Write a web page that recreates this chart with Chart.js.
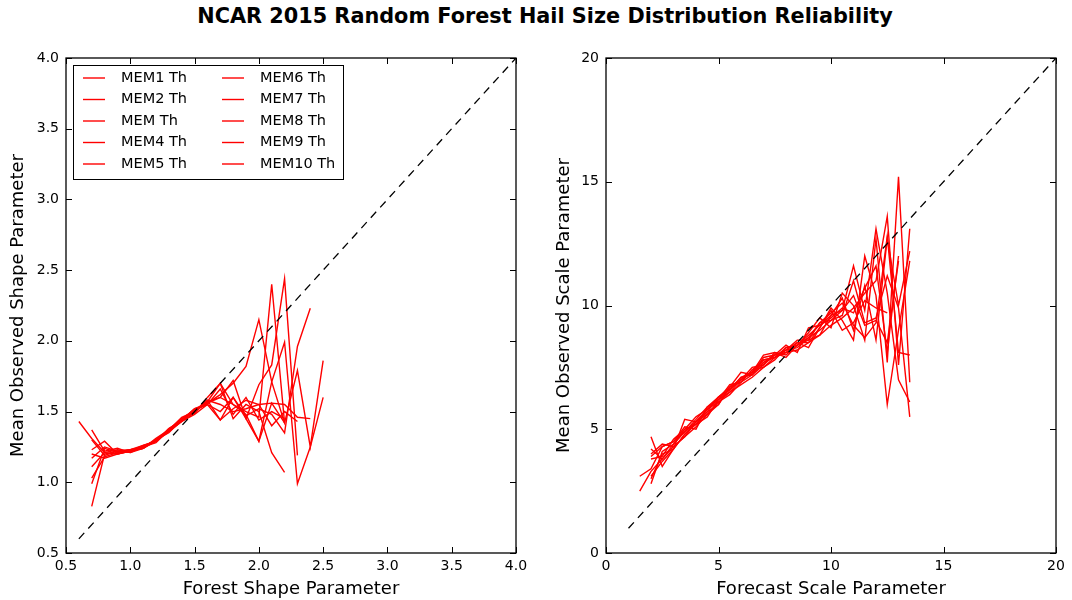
<!DOCTYPE html>
<html>
<head>
<meta charset="utf-8">
<title>NCAR 2015 Random Forest Hail Size Distribution Reliability</title>
<script src="https://cdn.jsdelivr.net/npm/chart.js@4.4.1/dist/chart.umd.min.js"></script>
<style>
  html, body { margin: 0; padding: 0; background: #fff; }
  #wrap { position: relative; width: 1072px; height: 600px; overflow: hidden; }
  #title {
    position: absolute; left: 9px; top: 4px; width: 1072px;
    text-align: center; line-height: 24px;
    font: bold 20.8px "DejaVu Sans", sans-serif; color: #000;
  }
  canvas { position: absolute; top: 0; }
  #shapeChart { left: 0; }
  #scaleChart { left: 536px; }
</style>
</head>
<body>
<div id="wrap">
  <div id="title">NCAR 2015 Random Forest Hail Size Distribution Reliability</div>
  <canvas id="shapeChart" width="536" height="600"></canvas>
  <canvas id="scaleChart" width="536" height="600"></canvas>
</div>
<script>
// Member names, as they appear in the legend
const memberLabels = ['MEM1 Th', 'MEM2 Th', 'MEM Th', 'MEM4 Th', 'MEM5 Th',
                      'MEM6 Th', 'MEM7 Th', 'MEM8 Th', 'MEM9 Th', 'MEM10 Th'];

// Shape parameter: forecast bins and mean observed value per member (null = empty bin)
const shapeBins = [0.6, 0.7, 0.8, 0.9, 1.0, 1.1, 1.2, 1.3, 1.4, 1.5,
                   1.6, 1.7, 1.8, 1.9, 2.0, 2.1, 2.2, 2.3, 2.4, 2.5];
const shapeObserved = [
  [1.43, 1.31, 1.21, 1.20, 1.22, 1.24, 1.29, 1.37, 1.44, 1.50, 1.57, 1.60, 1.55, 1.50, 1.46, 2.40, 1.42, null, null, null],
  [null, 1.37, 1.22, 1.24, 1.21, 1.25, 1.30, 1.36, 1.45, 1.51, 1.56, 1.62, 1.70, 1.82, 2.15, 1.71, 1.42, 1.79, 1.25, 1.86],
  [null, 1.30, 1.19, 1.22, 1.23, 1.26, 1.29, 1.38, 1.43, 1.49, 1.58, 1.55, 1.50, 1.52, 1.55, 1.56, 1.55, 1.46, 1.45, null],
  [null, 1.23, 1.29, 1.20, 1.22, 1.24, 1.30, 1.35, 1.44, 1.52, 1.55, 1.44, 1.60, 1.45, 1.69, 1.83, 2.44, 1.19, null, null],
  [null, 1.11, 1.21, 1.23, 1.22, 1.25, 1.28, 1.37, 1.45, 1.50, 1.57, 1.70, 1.55, 1.48, 1.29, 1.71, 1.99, 0.99, 1.25, 1.60],
  [null, 1.03, 1.18, 1.21, 1.23, 1.25, 1.30, 1.36, 1.43, 1.48, 1.55, 1.50, 1.60, 1.47, 1.52, 1.48, 1.35, 1.96, 2.23, null],
  [null, 0.99, 1.24, 1.21, 1.22, 1.26, 1.29, 1.38, 1.44, 1.52, 1.56, 1.60, 1.72, 1.45, 1.29, 1.56, 1.42, null, null, null],
  [null, 0.83, 1.20, 1.22, 1.21, 1.24, 1.31, 1.37, 1.45, 1.49, 1.60, 1.70, 1.45, 1.55, 1.50, 1.21, 1.07, null, null, null],
  [null, 1.20, 1.17, 1.20, 1.22, 1.25, 1.29, 1.36, 1.43, 1.51, 1.55, 1.66, 1.48, 1.60, 1.44, 1.50, 1.45, null, null, null],
  [null, 1.17, 1.25, 1.22, 1.23, 1.24, 1.30, 1.37, 1.46, 1.50, 1.58, 1.44, 1.52, 1.58, 1.55, 1.40, 1.50, 1.43, null, null]
];
const shapeTicks = [0.5, 1.0, 1.5, 2.0, 2.5, 3.0, 3.5, 4.0];
const shapeDiagonal = [0.6, 4.0];

// Scale parameter: forecast bins and mean observed value per member
const scaleBins = [1.5, 2, 2.5, 3, 3.5, 4, 4.5, 5, 5.5, 6, 6.5, 7, 7.5,
                   8, 8.5, 9, 9.5, 10, 10.5, 11, 11.5, 12, 12.5, 13, 13.5];
const scaleObserved = [
  [2.5, 3.3, 3.8, 4.3, 4.7, 5.1, 5.6, 6.1, 6.5, 6.8, 7.1, 7.5, 7.9, 8.1, 8.2, 8.5, 8.8, 9.2, 9.5, 9.9, 10.5, 11.0, 13.6, 7.6, 13.1],
  [3.1, 3.4, 4.3, 4.5, 4.9, 5.3, 5.8, 6.3, 6.7, 7.0, 7.3, 8.0, 8.1, 8.0, 8.4, 8.7, 9.0, 9.4, 9.8, 11.6, 9.8, 13.1, 10.5, 7.0, 6.1],
  [null, 4.7, 3.5, 4.2, 5.4, 5.3, 5.7, 6.0, 6.7, 7.3, 7.2, 7.7, 8.0, 8.4, 8.1, 9.1, 9.2, 9.6, 10.3, 9.0, 10.8, 8.6, 12.7, 10.0, 12.2],
  [null, 2.8, 4.1, 4.4, 4.9, 5.4, 5.9, 6.2, 6.6, 7.0, 7.5, 7.6, 8.0, 8.2, 8.5, 8.3, 9.1, 9.9, 9.4, 8.6, 12.0, 10.4, 6.0, 9.0, 11.8],
  [null, 4.2, 3.8, 4.4, 5.0, 5.5, 5.8, 6.2, 6.8, 6.9, 7.4, 7.8, 7.9, 8.2, 8.6, 8.6, 9.3, 9.7, 10.1, 9.2, 8.7, 9.3, 12.8, 8.1, 8.0],
  [null, 3.0, 4.0, 4.2, 4.8, 5.2, 5.7, 6.3, 6.6, 7.1, 7.2, 7.6, 8.1, 7.9, 8.4, 8.9, 9.5, 9.1, 10.5, 10.0, 8.6, 12.7, 7.7, 15.2, 6.9],
  [null, 3.8, 3.9, 4.6, 5.0, 5.2, 5.5, 6.2, 6.5, 7.0, 7.3, 7.7, 7.9, 8.2, 8.3, 8.7, 9.3, 9.4, 9.6, 11.0, 9.3, 9.5, 11.2, 9.9, 5.5],
  [null, 4.0, 4.4, 4.3, 4.7, 5.3, 5.8, 6.1, 6.4, 6.9, 7.2, 7.9, 8.0, 8.1, 8.5, 8.5, 9.1, 9.8, 9.0, 9.3, 10.2, 9.9, 9.7, null, null],
  [null, 3.1, 3.7, 4.2, 4.8, 5.3, 5.6, 6.0, 6.7, 6.9, 7.4, 7.5, 7.8, 8.3, 8.4, 8.6, 8.8, 9.6, 9.8, 10.4, 9.2, 9.4, 8.5, 11.8, null],
  [null, 3.9, 4.3, 4.5, 5.1, 5.0, 5.9, 6.3, 6.6, 7.1, 7.3, 7.8, 7.9, 8.3, 8.4, 8.8, 9.2, 9.5, 9.9, 9.7, 10.7, 11.6, 8.1, 12.0, null]
];
const scaleTicks = [0, 5, 10, 15, 20];
const scaleDiagonal = [1, 20];

Chart.defaults.font.family = '"DejaVu Sans", sans-serif';
Chart.defaults.color = '#000';

const TICK_LEN = 6;

/**
 * Box round the plot area with inward ticks on all four sides
 */
const frameAndTicks = {
    id: 'frameAndTicks',
    afterDraw(chart) {
        const ctx = chart.ctx;
        const area = chart.chartArea;
        const xs = chart.scales.x;
        const ys = chart.scales.y;

        ctx.save();
        ctx.strokeStyle = '#000';
        ctx.lineWidth = 1;
        ctx.beginPath();
        xs.ticks.forEach(t => {
            const px = Math.round(xs.getPixelForValue(t.value)) + 0.5;
            ctx.moveTo(px, area.bottom);
            ctx.lineTo(px, area.bottom - TICK_LEN);
            ctx.moveTo(px, area.top);
            ctx.lineTo(px, area.top + TICK_LEN);
        });
        ys.ticks.forEach(t => {
            const py = Math.round(ys.getPixelForValue(t.value)) + 0.5;
            ctx.moveTo(area.left, py);
            ctx.lineTo(area.left + TICK_LEN, py);
            ctx.moveTo(area.right, py);
            ctx.lineTo(area.right - TICK_LEN, py);
        });
        ctx.stroke();

        ctx.lineWidth = 1.3;
        ctx.strokeRect(area.left, area.top, area.width, area.height);
        ctx.restore();
    }
};

/**
 * Two-column legend in the upper left corner (matplotlib style)
 */
const memberLegend = {
    id: 'memberLegend',
    afterDraw(chart, args, opts) {
        if (!opts.show) return;
        const ctx = chart.ctx;
        const left = chart.chartArea.left + 7;
        const top = chart.chartArea.top + 7;

        ctx.save();
        ctx.fillStyle = '#fff';
        ctx.fillRect(left, top, 270, 114);
        ctx.strokeStyle = '#000';
        ctx.lineWidth = 1;
        ctx.strokeRect(left + 0.5, top + 0.5, 270, 114);

        ctx.font = '14.5px "DejaVu Sans", sans-serif';
        ctx.textBaseline = 'middle';
        memberLabels.forEach((label, i) => {
            const x0 = left + 10 + Math.floor(i / 5) * 139;
            const y0 = top + 13 + (i % 5) * 21.5;
            ctx.strokeStyle = '#ff0000';
            ctx.lineWidth = 1.4;
            ctx.beginPath();
            ctx.moveTo(x0, y0);
            ctx.lineTo(x0 + 22, y0);
            ctx.stroke();
            ctx.fillStyle = '#000';
            ctx.fillText(label, x0 + 38, y0);
        });
        ctx.restore();
    }
};

function memberLines(bins, rows) {
    return rows.map((vals, i) => ({
        label: memberLabels[i],
        data: bins.map((b, j) => ({ x: b, y: vals[j] })).filter(p => p.y !== null),
        borderColor: '#ff0000',
        borderWidth: 1.4,
        pointRadius: 0,
        tension: 0,
        fill: false,
        order: 1
    }));
}

function diagonalLine(ends) {
    return {
        label: 'perfect',
        data: ends.map(v => ({ x: v, y: v })),
        borderColor: '#000',
        borderWidth: 1.3,
        borderDash: [8, 6],
        pointRadius: 0,
        fill: false,
        order: 0
    };
}

function axis(tickValues, digits, title, titlePadding, fitSize, isX) {
    return {
        type: 'linear',
        min: tickValues[0],
        max: tickValues[tickValues.length - 1],
        afterBuildTicks: s => { s.ticks = tickValues.map(v => ({ value: v })); },
        afterFit: s => { if (isX) { s.height = fitSize; } else { s.width = fitSize; } },
        grid: { display: false, drawTicks: false },
        border: { display: false },
        ticks: {
            autoSkip: false,
            maxRotation: 0,
            padding: isX ? 5 : 7,
            font: { size: 14 },
            callback: v => v.toFixed(digits)
        },
        title: { display: true, text: title, font: { size: 18 }, padding: titlePadding }
    };
}

function makeChart(id, bins, rows, diag, ticks, digits, xTitle, yTitle, yAxisWidth, rightPad, yTitlePad, withLegend) {
    return new Chart(document.getElementById(id), {
        type: 'line',
        data: { datasets: [diagonalLine(diag)].concat(memberLines(bins, rows)) },
        options: {
            responsive: false,
            animation: false,
            events: [],
            layout: { padding: { left: 0, right: rightPad, top: 58, bottom: 0 } },
            scales: {
                x: axis(ticks, digits, xTitle, { top: 0, bottom: 0 }, 47, true),
                y: axis(ticks, digits, yTitle, { top: yTitlePad, bottom: 0 }, yAxisWidth, false)
            },
            plugins: {
                legend: { display: false },
                tooltip: { enabled: false },
                memberLegend: { show: withLegend }
            }
        },
        plugins: [frameAndTicks, memberLegend]
    });
}

makeChart('shapeChart', shapeBins, shapeObserved, shapeDiagonal, shapeTicks, 1,
    'Forest Shape Parameter', 'Mean Observed Shape Parameter', 66, 20, 8, true);
makeChart('scaleChart', scaleBins, scaleObserved, scaleDiagonal, scaleTicks, 0,
    'Forecast Scale Parameter', 'Mean Observed Scale Parameter', 70, 16, 18, false);
</script>
</body>
</html>
